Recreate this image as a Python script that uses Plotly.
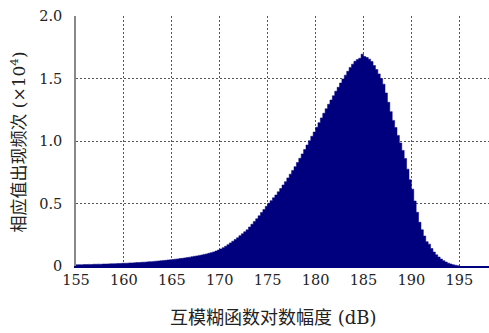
import numpy as np
import plotly.graph_objects as go

# Histogram of cross-ambiguity-function log magnitude, 0.25 dB bins from 155 dB to 195 dB
bin_start = 155.0
bin_width = 0.25
counts = [  # occurrences, in units of 10^4
    0.010, 0.011, 0.010, 0.012, 0.012, 0.013, 0.012, 0.014,
    0.014, 0.015, 0.014, 0.016, 0.016, 0.017, 0.018, 0.018,
    0.019, 0.020, 0.020, 0.022, 0.022, 0.023, 0.025, 0.025,
    0.026, 0.028, 0.028, 0.030, 0.031, 0.032, 0.034, 0.035,
    0.037, 0.039, 0.040, 0.042, 0.044, 0.046, 0.048, 0.050,
    0.052, 0.055, 0.057, 0.060, 0.062, 0.065, 0.068, 0.071,
    0.074, 0.078, 0.081, 0.085, 0.088, 0.093, 0.097, 0.102,
    0.107, 0.113, 0.120, 0.128, 0.137, 0.147, 0.158, 0.171,
    0.185, 0.198, 0.212, 0.226, 0.243, 0.258, 0.274, 0.290,
    0.312, 0.334, 0.356, 0.378, 0.402, 0.428, 0.452, 0.478,
    0.502, 0.523, 0.546, 0.568, 0.594, 0.620, 0.648, 0.675,
    0.705, 0.735, 0.765, 0.795, 0.828, 0.862, 0.897, 0.932,
    0.968, 1.003, 1.038, 1.072, 1.110, 1.147, 1.185, 1.222,
    1.258, 1.294, 1.328, 1.362, 1.398, 1.430, 1.464, 1.496,
    1.527, 1.558, 1.589, 1.615, 1.638, 1.652, 1.662, 1.695,
    1.676, 1.668, 1.655, 1.636, 1.604, 1.572, 1.537, 1.500,
    1.455, 1.385, 1.310, 1.235, 1.165, 1.108, 1.045, 0.985,
    0.925, 0.860, 0.775, 0.690, 0.615, 0.520, 0.430, 0.350,
    0.290, 0.240, 0.195, 0.175, 0.140, 0.112, 0.090, 0.072,
    0.056, 0.043, 0.032, 0.023, 0.016, 0.010, 0.006, 0.003,
]

x_ticks = [155, 160, 165, 170, 175, 180, 185, 190, 195]
y_ticks = [0, 0.5, 1.0, 1.5, 2.0]
y_tick_text = ["0", "0.5", "1.0", "1.5", "2.0"]
x_title = "互模糊函数对数幅度 (dB)"
y_title = "相应值出现频次 (×10<sup>4</sup>)"

# Step outline of the histogram: each bin's left edge carries its count,
# the final edge closes the last bin.
edges = bin_start + bin_width * np.arange(len(counts) + 1)
step_y = list(counts) + [counts[-1]]

navy = "#00007f"
font_family = "DejaVu Serif, Noto Sans CJK SC"

fig = go.Figure(
    go.Scatter(
        x=edges,
        y=step_y,
        mode="lines",
        line=dict(color=navy, width=0.5, shape="hv"),
        fill="tozeroy",
        fillcolor=navy,
        hoverinfo="skip",
    )
)

grid = dict(showgrid=True, gridcolor="#555555", gridwidth=1, griddash="2px,2px")

fig.update_layout(
    width=489,
    height=333,
    margin=dict(l=76.4, r=0, t=15.7, b=66.5),
    paper_bgcolor="white",
    plot_bgcolor="white",
    showlegend=False,
    font=dict(family=font_family, size=14.5, color="#222222"),
    xaxis=dict(
        range=[155, 198.1],
        tickvals=x_ticks,
        ticks="",
        showline=True,
        linecolor=navy,
        linewidth=1.5,
        zeroline=False,
        tickfont=dict(family=font_family, size=14.5),
        **grid,
    ),
    yaxis=dict(
        range=[0, 2.0],
        tickvals=y_ticks,
        ticktext=y_tick_text,
        ticks="",
        ticklabelstandoff=9,
        showline=True,
        linecolor="#888888",
        linewidth=1.5,
        zeroline=False,
        tickfont=dict(family=font_family, size=14.5),
        **grid,
    ),
    annotations=[
        dict(
            text=x_title, xref="paper", yref="paper", x=0.479, y=0,
            xanchor="center", yanchor="middle", yshift=-51.5,
            showarrow=False, font=dict(family=font_family, size=18),
        ),
        dict(
            text=y_title, xref="paper", yref="paper", x=0, y=0.496,
            xanchor="center", yanchor="middle", xshift=-58.4, textangle=-90,
            showarrow=False, font=dict(family=font_family, size=17),
        ),
    ],
)

fig.write_html("out.html")
